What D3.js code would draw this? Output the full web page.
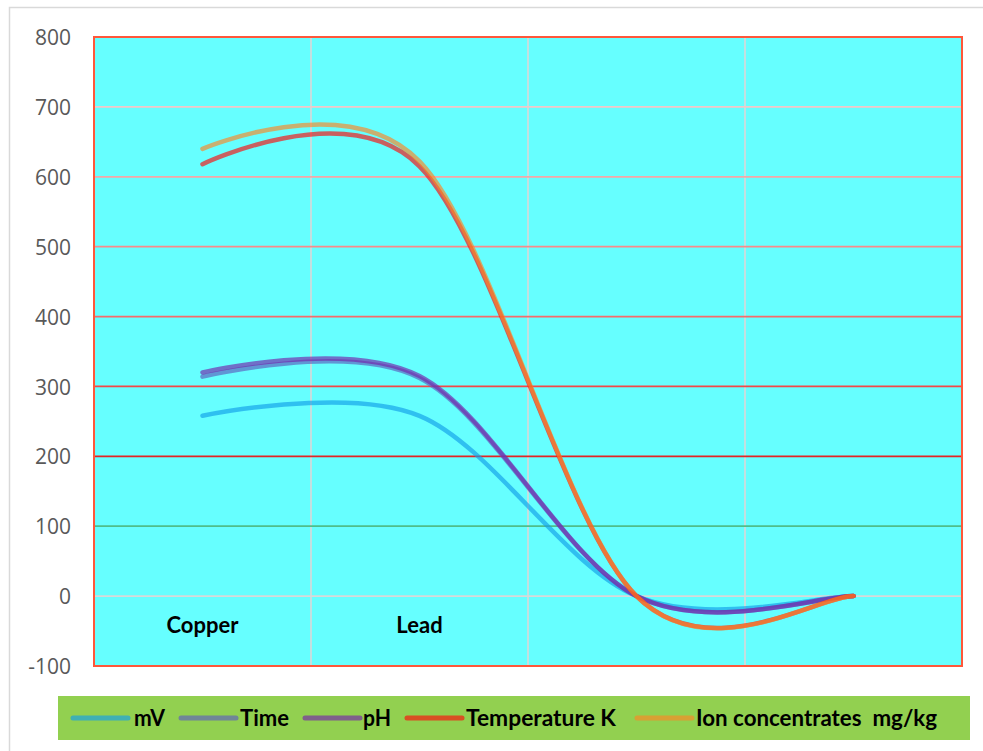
<!DOCTYPE html>
<html>
<head>
<meta charset="utf-8">
<script src="https://cdn.jsdelivr.net/npm/d3@7"></script>
<style>
  html, body { margin: 0; padding: 0; background: #fff; }
  svg { display: block; }
</style>
</head>
<body>
<svg id="chart"></svg>
<script>
// data
const categoryLabels = ['Copper', 'Lead', '', ''];
const mV = [258, 258, 0, 0];
const time = [314, 312, 0, 0];
const pH = [320, 315, 0, 0];
const temperatureK = [618, 615, 0, 0];
const ionConcentrates = [640, 622, 0, 0];
const seriesNames = ['mV', 'Time', 'pH', 'Temperature K', 'Ion concentrates  mg/kg'];
const yTicks = [-100, 0, 100, 200, 300, 400, 500, 600, 700, 800];

// styling
const seriesColors = ['#139ee8', '#5d5ebd', '#7523aa', '#fd0a0a', '#fd8623'];
const gridColors = {
  '-100': 'none', '0': '#d9d9d9', '100': '#50bd8a', '200': '#e42424', '300': '#f34848',
  '400': '#f66b6b', '500': '#f88b8b', '600': '#f6a8a8', '700': '#f3c8c8', '800': 'none'
};
// legend geometry: line start, text start, text width
const legendLayout = [
  {x: 73, tx: 134, w: 31},
  {x: 181, tx: 240, w: 49},
  {x: 305, tx: 363, w: 28},
  {x: 407, tx: 466, w: 150},
  {x: 637, tx: 696, w: 241}
];

const width = 983, height = 751;
const plot = {left: 94, right: 962, top: 37, bottom: 666};

// spreadsheet-style smoothed line: bezier segments, tangents limited by segment length
// (first point leaves flat, last point is reached along the last chord)
function smoothCurve(context) {
  let pts = [];
  const dist = (a, b) => Math.hypot(b[0] - a[0], b[1] - a[1]);
  return {
    areaStart() {}, areaEnd() {},
    lineStart() { pts = []; },
    point(x, y) { pts.push([+x, +y]); },
    lineEnd() {
      const n = pts.length;
      if (!n) return;
      context.moveTo(pts[0][0], pts[0][1]);
      for (let i = 0; i < n - 1; i++) {
        const p0 = i === 0 ? pts[1] : pts[i - 1];
        const p1 = pts[i], p2 = pts[i + 1], p3 = pts[Math.min(i + 2, n - 1)];
        const d12 = dist(p1, p2), d02 = dist(p0, p2), d13 = dist(p1, p3);
        let f1 = 1 / 6, f2 = 1 / 6;
        if (d02 / 6 > d12 / 2 && d02 > 0) f1 = d12 / 2 / d02;
        if (d13 / 6 > d12 / 2 && d13 > 0) f2 = d12 / 2 / d13;
        context.bezierCurveTo(
          p1[0] + f1 * (p2[0] - p0[0]), p1[1] + f1 * (p2[1] - p0[1]),
          p2[0] - f2 * (p3[0] - p1[0]), p2[1] - f2 * (p3[1] - p1[1]),
          p2[0], p2[1]);
      }
    }
  };
}

const svg = d3.select('#chart')
    .attr('width', width)
    .attr('height', height);

// outer chart frame
svg.append('path')
    .attr('d', `M9.5,${height} V7.5 H${width}`)
    .attr('fill', 'none')
    .attr('stroke', '#d9d9d9')
    .attr('stroke-width', 1.5);

const idx = d3.range(categoryLabels.length);

const xScale = d3.scalePoint()
    .domain(idx)
    .range([plot.left, plot.right])
    .padding(0.5);

const xBand = d3.scaleBand()
    .domain(idx)
    .range([plot.left, plot.right]);

const yScale = d3.scaleLinear()
    .domain([-100, 800])
    .range([plot.bottom, plot.top]);

// plot background
svg.append('rect')
    .attr('x', plot.left)
    .attr('y', plot.top)
    .attr('width', plot.right - plot.left)
    .attr('height', plot.bottom - plot.top)
    .attr('fill', '#66ffff');

// vertical gridlines on band edges
svg.append('g')
  .selectAll('line')
  .data(idx.slice(1))
  .join('line')
    .attr('x1', d => xBand(d))
    .attr('x2', d => xBand(d))
    .attr('y1', plot.top)
    .attr('y2', plot.bottom)
    .attr('stroke', '#e2d6d6')
    .attr('stroke-width', 1.5);

// horizontal gridlines, each its own colour
svg.append('g')
  .selectAll('line')
  .data(yTicks.filter(d => gridColors[d] !== 'none'))
  .join('line')
    .attr('x1', plot.left)
    .attr('x2', plot.right)
    .attr('y1', d => yScale(d))
    .attr('y2', d => yScale(d))
    .attr('stroke', d => gridColors[d])
    .attr('stroke-width', 1.8);

// plot border
svg.append('rect')
    .attr('x', plot.left)
    .attr('y', plot.top)
    .attr('width', plot.right - plot.left)
    .attr('height', plot.bottom - plot.top)
    .attr('fill', 'none')
    .attr('stroke', '#ff573a')
    .attr('stroke-width', 2);

// y axis labels
const yAxis = d3.axisLeft(yScale)
    .tickValues(yTicks)
    .tickFormat(d => String(d))
    .tickSize(0)
    .tickPadding(23);

svg.append('g')
    .attr('transform', `translate(${plot.left},0)`)
    .call(yAxis)
    .call(g => g.select('.domain').remove())
    .call(g => g.selectAll('text')
        .attr('dy', '0.36em')
        .attr('fill', '#595959')
        .style('font-family', '"Open Sans", sans-serif')
        .style('font-size', '21px'));

// category labels sit just under the zero line
svg.append('g')
  .selectAll('text')
  .data(idx)
  .join('text')
    .attr('x', d => xScale(d))
    .attr('y', yScale(0) + 37)
    .attr('text-anchor', 'middle')
    .style('font-family', 'Lato, "Open Sans", sans-serif')
    .style('font-weight', 'bold')
    .style('font-size', '22px')
    .attr('fill', '#000')
    .text(d => categoryLabels[d]);

// smooth lines
const allSeries = [mV, time, pH, temperatureK, ionConcentrates];
const line = d3.line()
    .x((d, i) => xScale(i))
    .y(d => yScale(d))
    .curve(smoothCurve);

svg.append('g')
  .selectAll('path')
  .data(allSeries)
  .join('path')
    .attr('d', d => line(d))
    .attr('fill', 'none')
    .attr('stroke', (d, i) => seriesColors[i])
    .attr('stroke-opacity', 0.65)
    .attr('stroke-width', 4.5)
    .attr('stroke-linecap', 'round');

// legend
const legend = svg.append('g');
legend.append('rect')
    .attr('x', 58)
    .attr('y', 696)
    .attr('width', 912)
    .attr('height', 44)
    .attr('fill', '#92d050');

const items = legend.selectAll('g')
  .data(seriesNames)
  .join('g');

items.append('line')
    .attr('x1', (d, i) => legendLayout[i].x)
    .attr('x2', (d, i) => legendLayout[i].x + 55)
    .attr('y1', 718)
    .attr('y2', 718)
    .attr('stroke', (d, i) => seriesColors[i])
    .attr('stroke-opacity', 0.65)
    .attr('stroke-width', 5)
    .attr('stroke-linecap', 'round');

items.append('text')
    .attr('x', (d, i) => legendLayout[i].tx)
    .attr('y', 726)
    .attr('textLength', (d, i) => legendLayout[i].w)
    .attr('lengthAdjust', 'spacingAndGlyphs')
    .style('font-family', 'Lato, "Open Sans", sans-serif')
    .style('font-weight', 'bold')
    .style('font-size', '22px')
    .style('white-space', 'pre')
    .attr('fill', '#000')
    .text(d => d);
</script>
</body>
</html>
